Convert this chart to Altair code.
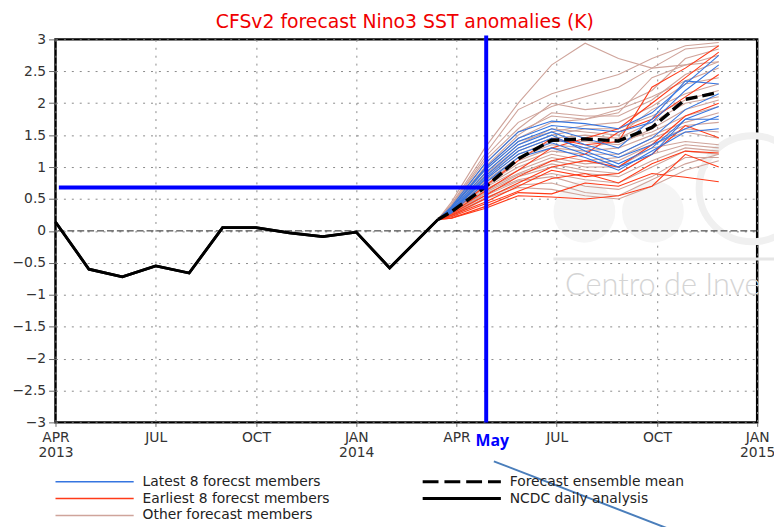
import altair as alt
import pandas as pd

# ---------------- data ----------------
obs_months = [0, 1, 2, 3, 4, 5, 6, 7, 8, 9, 10, 11.45]
obs_values = [0.14, -0.60, -0.72, -0.55, -0.66, 0.05, 0.05, -0.03, -0.09, -0.02, -0.58, 0.18]

fc_months = [11.45, 11.85, 12.85, 13.85, 14.85, 15.85, 16.85, 17.85, 18.85, 19.85]
fc_start = 0.18
ens_mean = [0.18, 0.30, 0.68, 1.13, 1.42, 1.44, 1.41, 1.62, 2.06, 2.17]

latest = [
    [0.38, 1.05, 1.55, 1.72, 1.68, 1.60, 1.85, 2.30, 2.75],
    [0.36, 0.98, 1.45, 1.65, 1.60, 1.55, 1.70, 2.20, 2.60],
    [0.35, 0.95, 1.40, 1.60, 1.45, 1.30, 1.75, 2.35, 2.30],
    [0.33, 0.90, 1.35, 1.55, 1.35, 1.20, 1.45, 1.90, 2.15],
    [0.32, 0.85, 1.30, 1.50, 1.25, 1.05, 1.30, 1.75, 1.95],
    [0.30, 0.82, 1.25, 1.45, 1.30, 1.15, 1.35, 1.60, 1.80],
    [0.30, 0.80, 1.20, 1.38, 1.20, 1.00, 1.20, 1.75, 1.75],
    [0.28, 0.75, 1.15, 1.30, 1.15, 0.95, 1.25, 1.55, 1.60],
]
earliest = [
    [0.30, 0.70, 1.10, 1.45, 1.35, 1.40, 2.25, 2.55, 2.90],
    [0.28, 0.62, 0.95, 1.30, 1.45, 1.60, 2.00, 2.40, 2.80],
    [0.27, 0.55, 0.85, 1.10, 1.20, 1.55, 1.75, 2.10, 2.45],
    [0.25, 0.50, 0.75, 1.00, 1.10, 1.00, 1.35, 1.80, 2.00],
    [0.24, 0.45, 0.70, 0.95, 0.85, 0.90, 1.20, 1.65, 1.46],
    [0.22, 0.42, 0.62, 0.82, 0.90, 0.75, 1.05, 1.25, 1.22],
    [0.20, 0.38, 0.60, 0.58, 0.75, 0.70, 0.90, 0.84, 0.77],
    [0.20, 0.35, 0.55, 0.53, 0.50, 0.55, 0.70, 1.20, 1.00],
]
others = [
    [0.45, 1.30, 2.00, 2.60, 2.94, 2.70, 2.55, 2.60, 2.65],
    [0.42, 1.20, 1.90, 2.15, 2.30, 2.45, 2.70, 2.90, 2.95],
    [0.40, 1.15, 1.70, 1.95, 2.10, 2.25, 2.55, 2.85, 2.90],
    [0.40, 1.10, 1.60, 2.00, 1.90, 1.95, 2.20, 2.70, 2.85],
    [0.38, 1.05, 1.55, 1.80, 1.75, 1.85, 2.40, 2.60, 2.75],
    [0.37, 1.00, 1.50, 1.85, 1.80, 1.80, 2.05, 2.45, 2.65],
    [0.36, 0.98, 1.45, 1.70, 1.75, 1.90, 2.10, 2.35, 2.55],
    [0.35, 0.95, 1.40, 1.55, 1.65, 1.70, 1.95, 2.30, 2.40],
    [0.34, 0.90, 1.35, 1.60, 1.55, 1.50, 1.90, 2.15, 2.30],
    [0.33, 0.88, 1.30, 1.50, 1.60, 1.60, 1.80, 2.05, 2.20],
    [0.32, 0.85, 1.25, 1.45, 1.50, 1.45, 1.70, 2.00, 2.10],
    [0.32, 0.80, 1.20, 1.40, 1.40, 1.35, 1.60, 1.90, 2.05],
    [0.31, 0.78, 1.15, 1.35, 1.30, 1.40, 1.55, 1.80, 1.95],
    [0.30, 0.75, 1.10, 1.30, 1.25, 1.30, 1.50, 1.70, 1.85],
    [0.30, 0.72, 1.05, 1.25, 1.20, 1.20, 1.45, 1.65, 1.70],
    [0.29, 0.70, 1.00, 1.20, 1.10, 1.15, 1.40, 1.60, 1.55],
    [0.28, 0.68, 0.95, 1.15, 1.05, 1.10, 1.35, 1.55, 1.45],
    [0.27, 0.65, 0.90, 1.10, 1.00, 1.00, 1.30, 1.40, 1.35],
    [0.26, 0.62, 0.88, 1.05, 0.95, 0.90, 1.20, 1.35, 1.30],
    [0.25, 0.60, 0.85, 1.00, 0.90, 0.85, 1.10, 1.30, 1.25],
    [0.25, 0.58, 0.80, 0.90, 0.80, 0.75, 1.00, 1.25, 1.20],
    [0.24, 0.55, 0.78, 0.85, 0.70, 0.65, 0.85, 1.15, 1.15],
    [0.23, 0.52, 0.72, 0.75, 0.60, 0.55, 0.80, 1.05, 1.20],
    [0.22, 0.50, 0.68, 0.65, 0.55, 0.50, 0.70, 0.95, 1.10],
]

x_ticks = [0, 3, 6, 9, 12, 15, 18, 21]
x_months = ["APR", "JUL", "OCT", "JAN", "APR", "JUL", "OCT", "JAN"]
x_years = ["2013", "", "", "2014", "", "", "", "2015"]
y_ticks = [-3, -2.5, -2, -1.5, -1, -0.5, 0, 0.5, 1, 1.5, 2, 2.5, 3]

may_month = 12.89
may_level = 0.68

title_text = "CFSv2 forecast Nino3 SST anomalies (K)"
legend_labels = ["Latest 8 forecst members", "Earliest 8 forecst members", "Other forecast members",
                 "Forecast ensemble mean", "NCDC daily analysis"]

# ---------------- styling ----------------
C_BLUE = "#3575e0"
C_RED = "#ff3a18"
C_ROSY = "#cfa49b"
FONT = "DejaVu Sans"
W, H = 709, 387

XS = alt.Scale(domain=[0, 21], nice=False, zero=False)
YS = alt.Scale(domain=[-3, 3], nice=False, zero=False)

label_expr = " : ".join(
    f"datum.value == {t} ? ['{m}', '{y}']" for t, m, y in zip(x_ticks, x_months, x_years)
) + " : ''"

x_axis = alt.Axis(values=x_ticks, labelExpr=label_expr, title=None, grid=True,
                  gridDash=[2, 6], gridColor="#8a8a8a", gridWidth=1, domain=False,
                  ticks=True, tickSize=4, tickColor="#666", labelFont=FONT, labelFontSize=14,
                  labelColor="#333", labelPadding=4, labelLineHeight=15, labelFlush=False,
                  labelOverlap=False, labelBound=False)
y_axis = alt.Axis(values=y_ticks, format="~g", title=None, grid=True,
                  gridDash=[2, 6], gridColor="#8a8a8a", gridWidth=1, domain=False,
                  ticks=True, tickSize=7, tickColor="#666", labelFont=FONT, labelFontSize=14,
                  labelColor="#333", labelPadding=3, labelFlush=False, labelOverlap=False)


def X(field):
    return alt.X(field, type="quantitative", scale=XS, axis=x_axis)


def Y(field):
    return alt.Y(field, type="quantitative", scale=YS, axis=y_axis)


def long_df(members, name):
    rows = []
    for i, vals in enumerate(members):
        for m, v in zip(fc_months, [fc_start] + vals):
            rows.append({"member": f"{name}{i}", "month": m, "value": v})
    return pd.DataFrame(rows)


obs_l = alt.Chart(pd.DataFrame({"month": obs_months, "value": obs_values})).mark_line(
    color="black", strokeWidth=2.8).encode(x=X("month"), y=Y("value"))

# watermark
wm_circ = pd.DataFrame({"month": [15.83, 17.88], "value": [0.30, 0.30]})
wm1 = alt.Chart(wm_circ).mark_point(shape="circle", size=3900, filled=True,
                                    color="#f5f5f5", opacity=1).encode(x=X("month"), y=Y("value"))
wm2 = alt.Chart(pd.DataFrame({"month": [20.85], "value": [0.66]})).mark_point(
    shape="circle", size=11500, filled=False, stroke="#f0f0f0", strokeWidth=7, opacity=1).encode(
    x=X("month"), y=Y("value"))
wm_line = alt.Chart(pd.DataFrame({"month": [14.9], "month2": [21.9], "value": [-0.44]})).mark_rule(
    color="#e6e6e6", strokeWidth=3).encode(x=X("month"), x2="month2:Q", y=Y("value"))
wm_text = alt.Chart(pd.DataFrame({"month": [15.25], "value": [-1.0], "t": ["Centro de Inve"]})).mark_text(
    align="left", baseline="alphabetic", font="Lato", fontSize=31, fontWeight=300,
    color="#d4d4d4").encode(x=X("month"), y=Y("value"), text="t:N")

zero_line = alt.Chart(pd.DataFrame({"value": [0]})).mark_rule(
    color="#222", strokeWidth=1, strokeDash=[7, 3]).encode(y=Y("value"))


def members_layer(members, name, color):
    return alt.Chart(long_df(members, name)).mark_line(color=color, strokeWidth=1.1).encode(
        x=X("month"), y=Y("value"), detail="member:N")


oth_l = members_layer(others, "o", C_ROSY)
ear_l = members_layer(earliest, "e", C_RED)
lat_l = members_layer(latest, "l", C_BLUE)

mean_l = alt.Chart(pd.DataFrame({"month": fc_months, "value": ens_mean})).mark_line(
    color="black", strokeWidth=3.5, strokeDash=[12, 5]).encode(x=X("month"), y=Y("value"))

vline = alt.Chart(pd.DataFrame({"month": [may_month], "lo": [-3.0], "hi": [3.06]})).mark_rule(
    color="#0000ff", strokeWidth=4).encode(x=X("month"), y=Y("lo"), y2="hi:Q")
hline = alt.Chart(pd.DataFrame({"a": [0.1], "b": [may_month], "value": [may_level]})).mark_rule(
    color="#0000ff", strokeWidth=4).encode(x=X("a"), x2="b:Q", y=Y("value"))
may_txt = alt.Chart(pd.DataFrame({"month": [13.07], "value": [-3.30], "t": ["May"]})).mark_text(
    font="Open Sans", fontWeight="bold", fontSize=16, color="#0000ff", baseline="middle").encode(
    x=X("month"), y=Y("value"), text="t:N")
arrow = alt.Chart(pd.DataFrame({"month": [13.12, 18.76], "value": [-3.61, -4.75]})).mark_line(
    color="#4a7ebb", strokeWidth=2).encode(x=X("month"), y=Y("value"))

one = pd.DataFrame({"a": [0]})
title_l = alt.Chart(one).mark_text(
    align="center", baseline="alphabetic", font=FONT, fontSize=19, color="#f00000").encode(
    x=alt.value(353), y=alt.value(-12), text=alt.value(title_text))

# legend (drawn manually, two columns)
leg_layers = []
leg_colors = [C_BLUE, C_RED, C_ROSY, "black", "black"]
leg_dash = [None, None, None, [16, 6], None]
leg_width = [1.5, 1.5, 1.5, 3, 3]
leg_pos = [(0, 447), (0, 464), (0, 481), (371, 447), (371, 464)]
for lab, col, dash, sw, (lx, ly) in zip(legend_labels, leg_colors, leg_dash, leg_width, leg_pos):
    kw = dict(color=col, strokeWidth=sw)
    if dash:
        kw["strokeDash"] = dash
    leg_layers.append(alt.Chart(one).mark_rule(**kw).encode(
        x=alt.value(lx), x2=alt.value(lx + 79), y=alt.value(ly)))
    leg_layers.append(alt.Chart(one).mark_text(
        align="left", baseline="middle", font=FONT, fontSize=14, color="#222").encode(
        x=alt.value(lx + 88), y=alt.value(ly), text=alt.value(lab)))

chart = alt.layer(
    obs_l, wm1, wm2, wm_line, wm_text, zero_line, oth_l, ear_l, lat_l, mean_l, obs_l,
    hline, vline, may_txt, arrow, title_l, *leg_layers
).properties(
    width=W, height=H,
    autosize=alt.AutoSizeParams(type="none"),
    padding={"left": 48, "top": 29, "right": 17, "bottom": 103},
).configure_view(stroke="black", strokeWidth=2.5)

chart.save("out.html", embed_options={"renderer": "svg", "actions": False})
